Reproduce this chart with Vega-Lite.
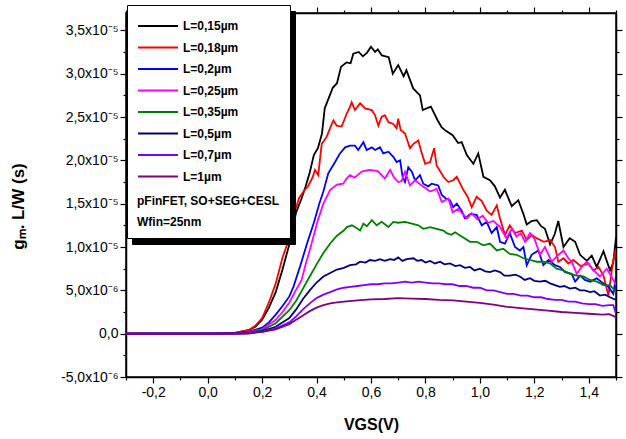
{
 "$schema": "https://vega.github.io/schema/vega-lite/v6.json",
 "width": 490, "height": 364,
 "autosize": {"type": "none"},
 "padding": {"left": 126, "top": 13, "right": 10, "bottom": 62},
 "background": "white",
 "config": {"view": {"stroke": "black", "strokeWidth": 1.5}, "font": "Liberation Sans"},
 "datasets": {
  "shadow": [{"s":"a"},{"s":"b"},{"s":"c"},{"s":"d"},{"s":"e"},{"s":"f"},{"s":"g"},{"s":"h"}],
  "curves": [
{"L":"L=0,15µm","V":-0.3,"g":0},{"L":"L=0,15µm","V":0,"g":0},{"L":"L=0,15µm","V":0.05,"g":0.002e-5},{"L":"L=0,15µm","V":0.1,"g":0.01e-5},{"L":"L=0,15µm","V":0.15,"g":0.04e-5},{"L":"L=0,15µm","V":0.175,"g":0.08e-5},{"L":"L=0,15µm","V":0.2,"g":0.16e-5},{"L":"L=0,15µm","V":0.225,"g":0.30e-5},{"L":"L=0,15µm","V":0.25,"g":0.48e-5},{"L":"L=0,15µm","V":0.275,"g":0.74e-5},{"L":"L=0,15µm","V":0.3,"g":1.03e-5},{"L":"L=0,15µm","V":0.325,"g":1.40e-5},{"L":"L=0,15µm","V":0.345,"g":1.56e-5},{"L":"L=0,15µm","V":0.36,"g":1.70e-5},{"L":"L=0,15µm","V":0.375,"g":1.86e-5},{"L":"L=0,15µm","V":0.39,"g":2.06e-5},{"L":"L=0,15µm","V":0.405,"g":2.14e-5},{"L":"L=0,15µm","V":0.42,"g":2.31e-5},{"L":"L=0,15µm","V":0.43,"g":2.60e-5},{"L":"L=0,15µm","V":0.445,"g":2.72e-5},{"L":"L=0,15µm","V":0.46,"g":2.84e-5},{"L":"L=0,15µm","V":0.475,"g":2.89e-5},{"L":"L=0,15µm","V":0.49,"g":3.08e-5},{"L":"L=0,15µm","V":0.51,"g":3.13e-5},{"L":"L=0,15µm","V":0.525,"g":3.12e-5},{"L":"L=0,15µm","V":0.535,"g":3.23e-5},{"L":"L=0,15µm","V":0.555,"g":3.25e-5},{"L":"L=0,15µm","V":0.57,"g":3.20e-5},{"L":"L=0,15µm","V":0.585,"g":3.24e-5},{"L":"L=0,15µm","V":0.6,"g":3.31e-5},{"L":"L=0,15µm","V":0.615,"g":3.25e-5},{"L":"L=0,15µm","V":0.625,"g":3.28e-5},{"L":"L=0,15µm","V":0.64,"g":3.21e-5},{"L":"L=0,15µm","V":0.665,"g":3.19e-5},{"L":"L=0,15µm","V":0.68,"g":3.00e-5},{"L":"L=0,15µm","V":0.7,"g":3.10e-5},{"L":"L=0,15µm","V":0.72,"g":2.97e-5},{"L":"L=0,15µm","V":0.73,"g":3.04e-5},{"L":"L=0,15µm","V":0.755,"g":2.83e-5},{"L":"L=0,15µm","V":0.78,"g":2.75e-5},{"L":"L=0,15µm","V":0.79,"g":2.58e-5},{"L":"L=0,15µm","V":0.82,"g":2.62e-5},{"L":"L=0,15µm","V":0.845,"g":2.46e-5},{"L":"L=0,15µm","V":0.86,"g":2.38e-5},{"L":"L=0,15µm","V":0.875,"g":2.34e-5},{"L":"L=0,15µm","V":0.9,"g":2.29e-5},{"L":"L=0,15µm","V":0.92,"g":2.20e-5},{"L":"L=0,15µm","V":0.933,"g":2.21e-5},{"L":"L=0,15µm","V":0.952,"g":2.06e-5},{"L":"L=0,15µm","V":0.976,"g":1.96e-5},{"L":"L=0,15µm","V":0.994,"g":2.08e-5},{"L":"L=0,15µm","V":1.013,"g":1.81e-5},{"L":"L=0,15µm","V":1.037,"g":1.77e-5},{"L":"L=0,15µm","V":1.055,"g":1.70e-5},{"L":"L=0,15µm","V":1.074,"g":1.57e-5},{"L":"L=0,15µm","V":1.092,"g":1.66e-5},{"L":"L=0,15µm","V":1.117,"g":1.47e-5},{"L":"L=0,15µm","V":1.141,"g":1.54e-5},{"L":"L=0,15µm","V":1.16,"g":1.38e-5},{"L":"L=0,15µm","V":1.172,"g":1.26e-5},{"L":"L=0,15µm","V":1.19,"g":1.30e-5},{"L":"L=0,15µm","V":1.209,"g":1.31e-5},{"L":"L=0,15µm","V":1.225,"g":1.24e-5},{"L":"L=0,15µm","V":1.239,"g":1.21e-5},{"L":"L=0,15µm","V":1.258,"g":1.03e-5},{"L":"L=0,15µm","V":1.275,"g":1.15e-5},{"L":"L=0,15µm","V":1.288,"g":1.30e-5},{"L":"L=0,15µm","V":1.307,"g":1.00e-5},{"L":"L=0,15µm","V":1.33,"g":1.10e-5},{"L":"L=0,15µm","V":1.35,"g":1.06e-5},{"L":"L=0,15µm","V":1.368,"g":0.91e-5},{"L":"L=0,15µm","V":1.393,"g":0.84e-5},{"L":"L=0,15µm","V":1.411,"g":0.90e-5},{"L":"L=0,15µm","V":1.429,"g":0.77e-5},{"L":"L=0,15µm","V":1.454,"g":0.95e-5},{"L":"L=0,15µm","V":1.478,"g":0.73e-5},{"L":"L=0,15µm","V":1.49,"g":0.82e-5},{"L":"L=0,15µm","V":1.5,"g":1.11e-5},
{"L":"L=0,18µm","V":-0.3,"g":0},{"L":"L=0,18µm","V":0,"g":0},{"L":"L=0,18µm","V":0.05,"g":0.002e-5},{"L":"L=0,18µm","V":0.1,"g":0.01e-5},{"L":"L=0,18µm","V":0.15,"g":0.04e-5},{"L":"L=0,18µm","V":0.175,"g":0.09e-5},{"L":"L=0,18µm","V":0.2,"g":0.18e-5},{"L":"L=0,18µm","V":0.225,"g":0.36e-5},{"L":"L=0,18µm","V":0.25,"g":0.58e-5},{"L":"L=0,18µm","V":0.275,"g":0.88e-5},{"L":"L=0,18µm","V":0.3,"g":1.10e-5},{"L":"L=0,18µm","V":0.32,"g":1.40e-5},{"L":"L=0,18µm","V":0.335,"g":1.56e-5},{"L":"L=0,18µm","V":0.35,"g":1.63e-5},{"L":"L=0,18µm","V":0.37,"g":1.71e-5},{"L":"L=0,18µm","V":0.385,"g":1.80e-5},{"L":"L=0,18µm","V":0.394,"g":1.89e-5},{"L":"L=0,18µm","V":0.406,"g":1.83e-5},{"L":"L=0,18µm","V":0.419,"g":2.19e-5},{"L":"L=0,18µm","V":0.437,"g":2.27e-5},{"L":"L=0,18µm","V":0.456,"g":2.42e-5},{"L":"L=0,18µm","V":0.462,"g":2.46e-5},{"L":"L=0,18µm","V":0.474,"g":2.40e-5},{"L":"L=0,18µm","V":0.492,"g":2.39e-5},{"L":"L=0,18µm","V":0.511,"g":2.54e-5},{"L":"L=0,18µm","V":0.523,"g":2.62e-5},{"L":"L=0,18µm","V":0.529,"g":2.67e-5},{"L":"L=0,18µm","V":0.541,"g":2.58e-5},{"L":"L=0,18µm","V":0.56,"g":2.66e-5},{"L":"L=0,18µm","V":0.578,"g":2.60e-5},{"L":"L=0,18µm","V":0.603,"g":2.58e-5},{"L":"L=0,18µm","V":0.615,"g":2.52e-5},{"L":"L=0,18µm","V":0.627,"g":2.40e-5},{"L":"L=0,18µm","V":0.639,"g":2.50e-5},{"L":"L=0,18µm","V":0.651,"g":2.52e-5},{"L":"L=0,18µm","V":0.664,"g":2.44e-5},{"L":"L=0,18µm","V":0.682,"g":2.42e-5},{"L":"L=0,18µm","V":0.694,"g":2.37e-5},{"L":"L=0,18µm","V":0.7,"g":2.48e-5},{"L":"L=0,18µm","V":0.709,"g":2.35e-5},{"L":"L=0,18µm","V":0.725,"g":2.31e-5},{"L":"L=0,18µm","V":0.743,"g":2.14e-5},{"L":"L=0,18µm","V":0.756,"g":2.19e-5},{"L":"L=0,18µm","V":0.774,"g":2.23e-5},{"L":"L=0,18µm","V":0.783,"g":2.12e-5},{"L":"L=0,18µm","V":0.799,"g":1.96e-5},{"L":"L=0,18µm","V":0.817,"g":1.98e-5},{"L":"L=0,18µm","V":0.832,"g":2.14e-5},{"L":"L=0,18µm","V":0.841,"g":1.94e-5},{"L":"L=0,18µm","V":0.866,"g":1.81e-5},{"L":"L=0,18µm","V":0.884,"g":1.75e-5},{"L":"L=0,18µm","V":0.902,"g":1.77e-5},{"L":"L=0,18µm","V":0.915,"g":1.81e-5},{"L":"L=0,18µm","V":0.939,"g":1.66e-5},{"L":"L=0,18µm","V":0.955,"g":1.58e-5},{"L":"L=0,18µm","V":0.97,"g":1.46e-5},{"L":"L=0,18µm","V":0.988,"g":1.58e-5},{"L":"L=0,18µm","V":1.007,"g":1.53e-5},{"L":"L=0,18µm","V":1.025,"g":1.42e-5},{"L":"L=0,18µm","V":1.043,"g":1.37e-5},{"L":"L=0,18µm","V":1.062,"g":1.48e-5},{"L":"L=0,18µm","V":1.074,"g":1.33e-5},{"L":"L=0,18µm","V":1.092,"g":1.14e-5},{"L":"L=0,18µm","V":1.11,"g":1.25e-5},{"L":"L=0,18µm","V":1.129,"g":1.16e-5},{"L":"L=0,18µm","V":1.154,"g":1.19e-5},{"L":"L=0,18µm","V":1.172,"g":1.08e-5},{"L":"L=0,18µm","V":1.19,"g":1.14e-5},{"L":"L=0,18µm","V":1.209,"g":1.10e-5},{"L":"L=0,18µm","V":1.235,"g":1.06e-5},{"L":"L=0,18µm","V":1.258,"g":1.08e-5},{"L":"L=0,18µm","V":1.276,"g":1.00e-5},{"L":"L=0,18µm","V":1.288,"g":0.83e-5},{"L":"L=0,18µm","V":1.307,"g":0.87e-5},{"L":"L=0,18µm","V":1.325,"g":0.81e-5},{"L":"L=0,18µm","V":1.343,"g":0.85e-5},{"L":"L=0,18µm","V":1.37,"g":0.78e-5},{"L":"L=0,18µm","V":1.399,"g":0.81e-5},{"L":"L=0,18µm","V":1.417,"g":0.73e-5},{"L":"L=0,18µm","V":1.436,"g":0.77e-5},{"L":"L=0,18µm","V":1.454,"g":0.67e-5},{"L":"L=0,18µm","V":1.472,"g":0.44e-5},{"L":"L=0,18µm","V":1.49,"g":0.85e-5},{"L":"L=0,18µm","V":1.5,"g":0.98e-5},
{"L":"L=0,2µm","V":-0.3,"g":0},{"L":"L=0,2µm","V":0,"g":0},{"L":"L=0,2µm","V":0.1,"g":0.005e-5},{"L":"L=0,2µm","V":0.15,"g":0.02e-5},{"L":"L=0,2µm","V":0.2,"g":0.07e-5},{"L":"L=0,2µm","V":0.225,"g":0.13e-5},{"L":"L=0,2µm","V":0.25,"g":0.22e-5},{"L":"L=0,2µm","V":0.275,"g":0.32e-5},{"L":"L=0,2µm","V":0.3,"g":0.43e-5},{"L":"L=0,2µm","V":0.315,"g":0.54e-5},{"L":"L=0,2µm","V":0.34,"g":0.78e-5},{"L":"L=0,2µm","V":0.365,"g":1.04e-5},{"L":"L=0,2µm","V":0.39,"g":1.28e-5},{"L":"L=0,2µm","V":0.41,"g":1.50e-5},{"L":"L=0,2µm","V":0.425,"g":1.64e-5},{"L":"L=0,2µm","V":0.443,"g":1.85e-5},{"L":"L=0,2µm","V":0.468,"g":1.98e-5},{"L":"L=0,2µm","V":0.486,"g":2.08e-5},{"L":"L=0,2µm","V":0.505,"g":2.15e-5},{"L":"L=0,2µm","V":0.523,"g":2.17e-5},{"L":"L=0,2µm","V":0.541,"g":2.17e-5},{"L":"L=0,2µm","V":0.553,"g":2.12e-5},{"L":"L=0,2µm","V":0.572,"g":2.21e-5},{"L":"L=0,2µm","V":0.584,"g":2.12e-5},{"L":"L=0,2µm","V":0.603,"g":2.15e-5},{"L":"L=0,2µm","V":0.615,"g":2.12e-5},{"L":"L=0,2µm","V":0.633,"g":2.15e-5},{"L":"L=0,2µm","V":0.645,"g":2.08e-5},{"L":"L=0,2µm","V":0.664,"g":2.10e-5},{"L":"L=0,2µm","V":0.682,"g":2.04e-5},{"L":"L=0,2µm","V":0.694,"g":1.98e-5},{"L":"L=0,2µm","V":0.707,"g":2.00e-5},{"L":"L=0,2µm","V":0.716,"g":1.81e-5},{"L":"L=0,2µm","V":0.725,"g":1.75e-5},{"L":"L=0,2µm","V":0.737,"g":1.92e-5},{"L":"L=0,2µm","V":0.75,"g":1.87e-5},{"L":"L=0,2µm","V":0.762,"g":1.77e-5},{"L":"L=0,2µm","V":0.78,"g":1.83e-5},{"L":"L=0,2µm","V":0.792,"g":1.73e-5},{"L":"L=0,2µm","V":0.81,"g":1.70e-5},{"L":"L=0,2µm","V":0.823,"g":1.73e-5},{"L":"L=0,2µm","V":0.847,"g":1.71e-5},{"L":"L=0,2µm","V":0.86,"g":1.60e-5},{"L":"L=0,2µm","V":0.875,"g":1.56e-5},{"L":"L=0,2µm","V":0.89,"g":1.54e-5},{"L":"L=0,2µm","V":0.902,"g":1.46e-5},{"L":"L=0,2µm","V":0.915,"g":1.50e-5},{"L":"L=0,2µm","V":0.933,"g":1.42e-5},{"L":"L=0,2µm","V":0.945,"g":1.33e-5},{"L":"L=0,2µm","V":0.965,"g":1.38e-5},{"L":"L=0,2µm","V":0.988,"g":1.37e-5},{"L":"L=0,2µm","V":1.007,"g":1.25e-5},{"L":"L=0,2µm","V":1.025,"g":1.29e-5},{"L":"L=0,2µm","V":1.043,"g":1.16e-5},{"L":"L=0,2µm","V":1.062,"g":1.23e-5},{"L":"L=0,2µm","V":1.074,"g":1.06e-5},{"L":"L=0,2µm","V":1.092,"g":1.04e-5},{"L":"L=0,2µm","V":1.11,"g":1.16e-5},{"L":"L=0,2µm","V":1.129,"g":1.00e-5},{"L":"L=0,2µm","V":1.147,"g":0.96e-5},{"L":"L=0,2µm","V":1.16,"g":1.00e-5},{"L":"L=0,2µm","V":1.172,"g":0.79e-5},{"L":"L=0,2µm","V":1.19,"g":0.91e-5},{"L":"L=0,2µm","V":1.215,"g":0.96e-5},{"L":"L=0,2µm","V":1.233,"g":0.79e-5},{"L":"L=0,2µm","V":1.252,"g":0.85e-5},{"L":"L=0,2µm","V":1.276,"g":0.79e-5},{"L":"L=0,2µm","V":1.294,"g":0.77e-5},{"L":"L=0,2µm","V":1.313,"g":0.71e-5},{"L":"L=0,2µm","V":1.337,"g":0.69e-5},{"L":"L=0,2µm","V":1.35,"g":0.60e-5},{"L":"L=0,2µm","V":1.368,"g":0.67e-5},{"L":"L=0,2µm","V":1.386,"g":0.62e-5},{"L":"L=0,2µm","V":1.405,"g":0.60e-5},{"L":"L=0,2µm","V":1.429,"g":0.64e-5},{"L":"L=0,2µm","V":1.454,"g":0.58e-5},{"L":"L=0,2µm","V":1.472,"g":0.54e-5},{"L":"L=0,2µm","V":1.49,"g":0.46e-5},{"L":"L=0,2µm","V":1.5,"g":0.66e-5},
{"L":"L=0,25µm","V":-0.3,"g":0},{"L":"L=0,25µm","V":0,"g":0},{"L":"L=0,25µm","V":0.1,"g":0.004e-5},{"L":"L=0,25µm","V":0.15,"g":0.015e-5},{"L":"L=0,25µm","V":0.2,"g":0.05e-5},{"L":"L=0,25µm","V":0.25,"g":0.16e-5},{"L":"L=0,25µm","V":0.275,"g":0.25e-5},{"L":"L=0,25µm","V":0.3,"g":0.36e-5},{"L":"L=0,25µm","V":0.32,"g":0.48e-5},{"L":"L=0,25µm","V":0.345,"g":0.62e-5},{"L":"L=0,25µm","V":0.36,"g":0.80e-5},{"L":"L=0,25µm","V":0.38,"g":1.02e-5},{"L":"L=0,25µm","V":0.405,"g":1.31e-5},{"L":"L=0,25µm","V":0.425,"g":1.50e-5},{"L":"L=0,25µm","V":0.45,"g":1.66e-5},{"L":"L=0,25µm","V":0.475,"g":1.72e-5},{"L":"L=0,25µm","V":0.498,"g":1.73e-5},{"L":"L=0,25µm","V":0.51,"g":1.79e-5},{"L":"L=0,25µm","V":0.523,"g":1.83e-5},{"L":"L=0,25µm","V":0.54,"g":1.80e-5},{"L":"L=0,25µm","V":0.566,"g":1.87e-5},{"L":"L=0,25µm","V":0.58,"g":1.88e-5},{"L":"L=0,25µm","V":0.596,"g":1.89e-5},{"L":"L=0,25µm","V":0.615,"g":1.88e-5},{"L":"L=0,25µm","V":0.627,"g":1.87e-5},{"L":"L=0,25µm","V":0.651,"g":1.79e-5},{"L":"L=0,25µm","V":0.67,"g":1.89e-5},{"L":"L=0,25µm","V":0.685,"g":1.80e-5},{"L":"L=0,25µm","V":0.7,"g":1.75e-5},{"L":"L=0,25µm","V":0.712,"g":1.76e-5},{"L":"L=0,25µm","V":0.725,"g":1.87e-5},{"L":"L=0,25µm","V":0.743,"g":1.71e-5},{"L":"L=0,25µm","V":0.762,"g":1.77e-5},{"L":"L=0,25µm","V":0.786,"g":1.71e-5},{"L":"L=0,25µm","V":0.8,"g":1.68e-5},{"L":"L=0,25µm","V":0.817,"g":1.64e-5},{"L":"L=0,25µm","V":0.841,"g":1.67e-5},{"L":"L=0,25µm","V":0.86,"g":1.52e-5},{"L":"L=0,25µm","V":0.884,"g":1.56e-5},{"L":"L=0,25µm","V":0.9,"g":1.40e-5},{"L":"L=0,25µm","V":0.92,"g":1.44e-5},{"L":"L=0,25µm","V":0.952,"g":1.33e-5},{"L":"L=0,25µm","V":0.97,"g":1.39e-5},{"L":"L=0,25µm","V":0.99,"g":1.32e-5},{"L":"L=0,25µm","V":1.01,"g":1.36e-5},{"L":"L=0,25µm","V":1.03,"g":1.28e-5},{"L":"L=0,25µm","V":1.05,"g":1.30e-5},{"L":"L=0,25µm","V":1.074,"g":1.23e-5},{"L":"L=0,25µm","V":1.098,"g":1.10e-5},{"L":"L=0,25µm","V":1.117,"g":1.21e-5},{"L":"L=0,25µm","V":1.135,"g":1.12e-5},{"L":"L=0,25µm","V":1.15,"g":1.16e-5},{"L":"L=0,25µm","V":1.166,"g":1.06e-5},{"L":"L=0,25µm","V":1.184,"g":1.16e-5},{"L":"L=0,25µm","V":1.2,"g":1.10e-5},{"L":"L=0,25µm","V":1.221,"g":0.91e-5},{"L":"L=0,25µm","V":1.239,"g":1.00e-5},{"L":"L=0,25µm","V":1.264,"g":0.83e-5},{"L":"L=0,25µm","V":1.285,"g":0.90e-5},{"L":"L=0,25µm","V":1.307,"g":0.96e-5},{"L":"L=0,25µm","V":1.325,"g":0.87e-5},{"L":"L=0,25µm","V":1.337,"g":0.83e-5},{"L":"L=0,25µm","V":1.356,"g":0.69e-5},{"L":"L=0,25µm","V":1.374,"g":0.77e-5},{"L":"L=0,25µm","V":1.393,"g":0.83e-5},{"L":"L=0,25µm","V":1.415,"g":0.74e-5},{"L":"L=0,25µm","V":1.441,"g":0.66e-5},{"L":"L=0,25µm","V":1.466,"g":0.75e-5},{"L":"L=0,25µm","V":1.485,"g":0.65e-5},{"L":"L=0,25µm","V":1.5,"g":0.56e-5},
{"L":"L=0,35µm","V":-0.3,"g":0},{"L":"L=0,35µm","V":0,"g":0},{"L":"L=0,35µm","V":0.1,"g":0.003e-5},{"L":"L=0,35µm","V":0.15,"g":0.01e-5},{"L":"L=0,35µm","V":0.2,"g":0.04e-5},{"L":"L=0,35µm","V":0.25,"g":0.12e-5},{"L":"L=0,35µm","V":0.3,"g":0.27e-5},{"L":"L=0,35µm","V":0.325,"g":0.38e-5},{"L":"L=0,35µm","V":0.35,"g":0.52e-5},{"L":"L=0,35µm","V":0.375,"g":0.66e-5},{"L":"L=0,35µm","V":0.4,"g":0.80e-5},{"L":"L=0,35µm","V":0.425,"g":0.93e-5},{"L":"L=0,35µm","V":0.45,"g":1.04e-5},{"L":"L=0,35µm","V":0.475,"g":1.13e-5},{"L":"L=0,35µm","V":0.5,"g":1.19e-5},{"L":"L=0,35µm","V":0.511,"g":1.23e-5},{"L":"L=0,35µm","V":0.53,"g":1.25e-5},{"L":"L=0,35µm","V":0.541,"g":1.23e-5},{"L":"L=0,35µm","V":0.56,"g":1.19e-5},{"L":"L=0,35µm","V":0.572,"g":1.27e-5},{"L":"L=0,35µm","V":0.585,"g":1.24e-5},{"L":"L=0,35µm","V":0.603,"g":1.31e-5},{"L":"L=0,35µm","V":0.621,"g":1.25e-5},{"L":"L=0,35µm","V":0.639,"g":1.29e-5},{"L":"L=0,35µm","V":0.664,"g":1.23e-5},{"L":"L=0,35µm","V":0.682,"g":1.29e-5},{"L":"L=0,35µm","V":0.7,"g":1.28e-5},{"L":"L=0,35µm","V":0.725,"g":1.29e-5},{"L":"L=0,35µm","V":0.75,"g":1.27e-5},{"L":"L=0,35µm","V":0.774,"g":1.25e-5},{"L":"L=0,35µm","V":0.792,"g":1.21e-5},{"L":"L=0,35µm","V":0.817,"g":1.23e-5},{"L":"L=0,35µm","V":0.841,"g":1.21e-5},{"L":"L=0,35µm","V":0.866,"g":1.19e-5},{"L":"L=0,35µm","V":0.878,"g":1.16e-5},{"L":"L=0,35µm","V":0.895,"g":1.14e-5},{"L":"L=0,35µm","V":0.909,"g":1.17e-5},{"L":"L=0,35µm","V":0.933,"g":1.12e-5},{"L":"L=0,35µm","V":0.964,"g":1.06e-5},{"L":"L=0,35µm","V":0.988,"g":1.06e-5},{"L":"L=0,35µm","V":1.013,"g":1.02e-5},{"L":"L=0,35µm","V":1.037,"g":1.04e-5},{"L":"L=0,35µm","V":1.062,"g":0.96e-5},{"L":"L=0,35µm","V":1.086,"g":0.98e-5},{"L":"L=0,35µm","V":1.11,"g":0.92e-5},{"L":"L=0,35µm","V":1.135,"g":0.91e-5},{"L":"L=0,35µm","V":1.16,"g":0.87e-5},{"L":"L=0,35µm","V":1.184,"g":0.85e-5},{"L":"L=0,35µm","V":1.209,"g":0.83e-5},{"L":"L=0,35µm","V":1.233,"g":0.83e-5},{"L":"L=0,35µm","V":1.258,"g":0.81e-5},{"L":"L=0,35µm","V":1.282,"g":0.75e-5},{"L":"L=0,35µm","V":1.307,"g":0.73e-5},{"L":"L=0,35µm","V":1.331,"g":0.69e-5},{"L":"L=0,35µm","V":1.356,"g":0.67e-5},{"L":"L=0,35µm","V":1.38,"g":0.66e-5},{"L":"L=0,35µm","V":1.405,"g":0.62e-5},{"L":"L=0,35µm","V":1.43,"g":0.60e-5},{"L":"L=0,35µm","V":1.454,"g":0.56e-5},{"L":"L=0,35µm","V":1.478,"g":0.56e-5},{"L":"L=0,35µm","V":1.5,"g":0.48e-5},
{"L":"L=0,5µm","V":-0.3,"g":0},{"L":"L=0,5µm","V":0,"g":0},{"L":"L=0,5µm","V":0.1,"g":0.002e-5},{"L":"L=0,5µm","V":0.15,"g":0.005e-5},{"L":"L=0,5µm","V":0.2,"g":0.03e-5},{"L":"L=0,5µm","V":0.25,"g":0.08e-5},{"L":"L=0,5µm","V":0.3,"g":0.18e-5},{"L":"L=0,5µm","V":0.325,"g":0.28e-5},{"L":"L=0,5µm","V":0.35,"g":0.40e-5},{"L":"L=0,5µm","V":0.375,"g":0.50e-5},{"L":"L=0,5µm","V":0.4,"g":0.59e-5},{"L":"L=0,5µm","V":0.425,"g":0.66e-5},{"L":"L=0,5µm","V":0.45,"g":0.70e-5},{"L":"L=0,5µm","V":0.475,"g":0.74e-5},{"L":"L=0,5µm","V":0.5,"g":0.76e-5},{"L":"L=0,5µm","V":0.523,"g":0.79e-5},{"L":"L=0,5µm","V":0.545,"g":0.80e-5},{"L":"L=0,5µm","V":0.56,"g":0.83e-5},{"L":"L=0,5µm","V":0.58,"g":0.82e-5},{"L":"L=0,5µm","V":0.596,"g":0.85e-5},{"L":"L=0,5µm","V":0.615,"g":0.84e-5},{"L":"L=0,5µm","V":0.633,"g":0.86e-5},{"L":"L=0,5µm","V":0.65,"g":0.84e-5},{"L":"L=0,5µm","V":0.67,"g":0.86e-5},{"L":"L=0,5µm","V":0.685,"g":0.85e-5},{"L":"L=0,5µm","V":0.7,"g":0.88e-5},{"L":"L=0,5µm","V":0.715,"g":0.84e-5},{"L":"L=0,5µm","V":0.731,"g":0.86e-5},{"L":"L=0,5µm","V":0.756,"g":0.87e-5},{"L":"L=0,5µm","V":0.77,"g":0.84e-5},{"L":"L=0,5µm","V":0.786,"g":0.85e-5},{"L":"L=0,5µm","V":0.8,"g":0.82e-5},{"L":"L=0,5µm","V":0.817,"g":0.84e-5},{"L":"L=0,5µm","V":0.835,"g":0.81e-5},{"L":"L=0,5µm","V":0.854,"g":0.83e-5},{"L":"L=0,5µm","V":0.87,"g":0.80e-5},{"L":"L=0,5µm","V":0.89,"g":0.81e-5},{"L":"L=0,5µm","V":0.91,"g":0.78e-5},{"L":"L=0,5µm","V":0.927,"g":0.79e-5},{"L":"L=0,5µm","V":0.945,"g":0.76e-5},{"L":"L=0,5µm","V":0.964,"g":0.77e-5},{"L":"L=0,5µm","V":0.98,"g":0.73e-5},{"L":"L=0,5µm","V":1.0,"g":0.75e-5},{"L":"L=0,5µm","V":1.02,"g":0.72e-5},{"L":"L=0,5µm","V":1.037,"g":0.71e-5},{"L":"L=0,5µm","V":1.055,"g":0.73e-5},{"L":"L=0,5µm","V":1.074,"g":0.71e-5},{"L":"L=0,5µm","V":1.09,"g":0.67e-5},{"L":"L=0,5µm","V":1.11,"g":0.67e-5},{"L":"L=0,5µm","V":1.13,"g":0.68e-5},{"L":"L=0,5µm","V":1.147,"g":0.66e-5},{"L":"L=0,5µm","V":1.165,"g":0.62e-5},{"L":"L=0,5µm","V":1.184,"g":0.64e-5},{"L":"L=0,5µm","V":1.2,"g":0.61e-5},{"L":"L=0,5µm","V":1.221,"g":0.60e-5},{"L":"L=0,5µm","V":1.24,"g":0.61e-5},{"L":"L=0,5µm","V":1.258,"g":0.58e-5},{"L":"L=0,5µm","V":1.276,"g":0.56e-5},{"L":"L=0,5µm","V":1.294,"g":0.54e-5},{"L":"L=0,5µm","V":1.31,"g":0.55e-5},{"L":"L=0,5µm","V":1.331,"g":0.52e-5},{"L":"L=0,5µm","V":1.35,"g":0.53e-5},{"L":"L=0,5µm","V":1.368,"g":0.50e-5},{"L":"L=0,5µm","V":1.385,"g":0.50e-5},{"L":"L=0,5µm","V":1.405,"g":0.48e-5},{"L":"L=0,5µm","V":1.42,"g":0.49e-5},{"L":"L=0,5µm","V":1.441,"g":0.44e-5},{"L":"L=0,5µm","V":1.46,"g":0.45e-5},{"L":"L=0,5µm","V":1.478,"g":0.42e-5},{"L":"L=0,5µm","V":1.5,"g":0.39e-5},
{"L":"L=0,7µm","V":-0.3,"g":0},{"L":"L=0,7µm","V":0,"g":0},{"L":"L=0,7µm","V":0.1,"g":0.002e-5},{"L":"L=0,7µm","V":0.15,"g":0.005e-5},{"L":"L=0,7µm","V":0.2,"g":0.02e-5},{"L":"L=0,7µm","V":0.25,"g":0.06e-5},{"L":"L=0,7µm","V":0.3,"g":0.13e-5},{"L":"L=0,7µm","V":0.325,"g":0.20e-5},{"L":"L=0,7µm","V":0.35,"g":0.28e-5},{"L":"L=0,7µm","V":0.375,"g":0.35e-5},{"L":"L=0,7µm","V":0.4,"g":0.41e-5},{"L":"L=0,7µm","V":0.425,"g":0.45e-5},{"L":"L=0,7µm","V":0.45,"g":0.48e-5},{"L":"L=0,7µm","V":0.475,"g":0.51e-5},{"L":"L=0,7µm","V":0.5,"g":0.53e-5},{"L":"L=0,7µm","V":0.525,"g":0.54e-5},{"L":"L=0,7µm","V":0.55,"g":0.55e-5},{"L":"L=0,7µm","V":0.575,"g":0.56e-5},{"L":"L=0,7µm","V":0.6,"g":0.57e-5},{"L":"L=0,7µm","V":0.625,"g":0.57e-5},{"L":"L=0,7µm","V":0.65,"g":0.58e-5},{"L":"L=0,7µm","V":0.675,"g":0.58e-5},{"L":"L=0,7µm","V":0.7,"g":0.59e-5},{"L":"L=0,7µm","V":0.725,"g":0.60e-5},{"L":"L=0,7µm","V":0.75,"g":0.59e-5},{"L":"L=0,7µm","V":0.775,"g":0.60e-5},{"L":"L=0,7µm","V":0.8,"g":0.59e-5},{"L":"L=0,7µm","V":0.825,"g":0.58e-5},{"L":"L=0,7µm","V":0.85,"g":0.58e-5},{"L":"L=0,7µm","V":0.875,"g":0.57e-5},{"L":"L=0,7µm","V":0.9,"g":0.57e-5},{"L":"L=0,7µm","V":0.925,"g":0.55e-5},{"L":"L=0,7µm","V":0.95,"g":0.55e-5},{"L":"L=0,7µm","V":0.975,"g":0.53e-5},{"L":"L=0,7µm","V":1.0,"g":0.53e-5},{"L":"L=0,7µm","V":1.025,"g":0.50e-5},{"L":"L=0,7µm","V":1.05,"g":0.50e-5},{"L":"L=0,7µm","V":1.075,"g":0.48e-5},{"L":"L=0,7µm","V":1.1,"g":0.46e-5},{"L":"L=0,7µm","V":1.125,"g":0.46e-5},{"L":"L=0,7µm","V":1.15,"g":0.44e-5},{"L":"L=0,7µm","V":1.175,"g":0.44e-5},{"L":"L=0,7µm","V":1.2,"g":0.42e-5},{"L":"L=0,7µm","V":1.225,"g":0.42e-5},{"L":"L=0,7µm","V":1.25,"g":0.40e-5},{"L":"L=0,7µm","V":1.275,"g":0.39e-5},{"L":"L=0,7µm","V":1.3,"g":0.39e-5},{"L":"L=0,7µm","V":1.325,"g":0.37e-5},{"L":"L=0,7µm","V":1.35,"g":0.37e-5},{"L":"L=0,7µm","V":1.375,"g":0.35e-5},{"L":"L=0,7µm","V":1.4,"g":0.34e-5},{"L":"L=0,7µm","V":1.425,"g":0.34e-5},{"L":"L=0,7µm","V":1.45,"g":0.32e-5},{"L":"L=0,7µm","V":1.475,"g":0.33e-5},{"L":"L=0,7µm","V":1.49,"g":0.33e-5},{"L":"L=0,7µm","V":1.5,"g":0.23e-5},
{"L":"L=1µm","V":-0.3,"g":0},{"L":"L=1µm","V":0,"g":0},{"L":"L=1µm","V":0.1,"g":0.002e-5},{"L":"L=1µm","V":0.15,"g":0.005e-5},{"L":"L=1µm","V":0.2,"g":0.02e-5},{"L":"L=1µm","V":0.25,"g":0.05e-5},{"L":"L=1µm","V":0.3,"g":0.11e-5},{"L":"L=1µm","V":0.325,"g":0.16e-5},{"L":"L=1µm","V":0.35,"g":0.21e-5},{"L":"L=1µm","V":0.375,"g":0.26e-5},{"L":"L=1µm","V":0.4,"g":0.30e-5},{"L":"L=1µm","V":0.425,"g":0.33e-5},{"L":"L=1µm","V":0.45,"g":0.35e-5},{"L":"L=1µm","V":0.475,"g":0.36e-5},{"L":"L=1µm","V":0.5,"g":0.37e-5},{"L":"L=1µm","V":0.55,"g":0.385e-5},{"L":"L=1µm","V":0.6,"g":0.395e-5},{"L":"L=1µm","V":0.65,"g":0.40e-5},{"L":"L=1µm","V":0.7,"g":0.41e-5},{"L":"L=1µm","V":0.75,"g":0.405e-5},{"L":"L=1µm","V":0.8,"g":0.40e-5},{"L":"L=1µm","V":0.85,"g":0.39e-5},{"L":"L=1µm","V":0.9,"g":0.385e-5},{"L":"L=1µm","V":0.95,"g":0.37e-5},{"L":"L=1µm","V":1.0,"g":0.355e-5},{"L":"L=1µm","V":1.05,"g":0.335e-5},{"L":"L=1µm","V":1.1,"g":0.31e-5},{"L":"L=1µm","V":1.15,"g":0.295e-5},{"L":"L=1µm","V":1.2,"g":0.28e-5},{"L":"L=1µm","V":1.25,"g":0.265e-5},{"L":"L=1µm","V":1.3,"g":0.25e-5},{"L":"L=1µm","V":1.35,"g":0.24e-5},{"L":"L=1µm","V":1.4,"g":0.23e-5},{"L":"L=1µm","V":1.45,"g":0.22e-5},{"L":"L=1µm","V":1.475,"g":0.225e-5},{"L":"L=1µm","V":1.5,"g":0.19e-5}
  ]
 },
 "layer": [
  {
   "data": {"name": "shadow"},
   "mark": {"type": "line", "strokeWidth": 1.8, "opacity": 0},
   "encoding": {
    "stroke": {"field": "s", "type": "nominal",
     "scale": {"range": ["black"]},
     "legend": {"orient": "none", "legendX": 6, "legendY": -2,
      "title": ["pFinFET, SO+SEG+CESL", "Wfin=25nm"], "titleOrient": "bottom", "titleAnchor": "start",
      "titleFontSize": 12, "titleFontWeight": "bold", "titleColor": "black", "titleLineHeight": 21, "titlePadding": 13,
      "symbolType": "M-1,0H3", "symbolSize": 400, "symbolStrokeWidth": 2,
      "labelExpr": "'\u00a0'",
      "labelFontSize": 12, "labelFontWeight": "bold", "labelColor": "black", "labelOffset": 24, "rowPadding": 4.5,
      "padding": 10, "strokeColor": "black", "fillColor": "black", "cornerRadius": 0}}
   }
  },
  {
   "data": {"name": "curves"},
   "mark": {"type": "line", "strokeWidth": 1.8, "clip": true},
   "encoding": {
    "x": {"field": "V", "type": "quantitative",
     "scale": {"domain": [-0.3, 1.5], "nice": false, "zero": false},
     "axis": {"orient": "bottom", "grid": false,
      "values": [-0.3,-0.2,-0.1,0,0.1,0.2,0.3,0.4,0.5,0.6,0.7,0.8,0.9,1.0,1.1,1.2,1.3,1.4,1.5],
      "labelExpr": "abs(round(datum.value*10))%2==0 ? replace(replace(format(datum.value,'.1f'),'.',','),'−','-') : ''",
      "tickSize": {"condition": {"test": "abs(round(datum.value*10))%2==0", "value": 6}, "value": 3},
      "tickColor": "black", "tickWidth": 1.2, "domainColor": "black", "domainWidth": 1.5,
      "labelFontSize": 14, "labelColor": "black", "labelPadding": 2, "labelFlush": false,
      "title": "VGS(V)", "titleFontSize": 16, "titleFontWeight": "bold", "titleColor": "black", "titlePadding": 17}},
    "y": {"field": "g", "type": "quantitative",
     "scale": {"domain": [-5e-6, 3.7e-5], "nice": false, "zero": false},
     "axis": {"orient": "left", "grid": false,
      "values": [-5e-6,-2.5e-6,0,2.5e-6,5e-6,7.5e-6,1e-5,1.25e-5,1.5e-5,1.75e-5,2e-5,2.25e-5,2.5e-5,2.75e-5,3e-5,3.25e-5,3.5e-5],
      "labelExpr": "abs(round(datum.value/2.5e-6))%2!=0 ? '' : (datum.value==0 ? '0,0' : (abs(datum.value)<9e-6 ? replace(replace(format(datum.value*1e6,'.1f'),'.',','),'−','-')+'x10⁻⁶' : replace(replace(format(datum.value*1e5,'.1f'),'.',','),'−','-')+'x10⁻⁵'))",
      "tickSize": {"condition": {"test": "abs(round(datum.value/2.5e-6))%2==0", "value": 6}, "value": 3},
      "tickColor": "black", "tickWidth": 1.2, "domainColor": "black", "domainWidth": 1.5,
      "labelFontSize": 14, "labelColor": "black", "labelPadding": 2, "labelFlush": false,
      "title": "gₘ. L/W (s)", "titleFontSize": 17, "titleFontWeight": "bold", "titleColor": "black", "titlePadding": 33, "titleY": 193}},
    "color": {"field": "L", "type": "nominal",
     "scale": {"domain": ["L=0,15µm","L=0,18µm","L=0,2µm","L=0,25µm","L=0,35µm","L=0,5µm","L=0,7µm","L=1µm"],
      "range": ["#000000","#ff0000","#0000ff","#ff00ff","#008000","#000080","#8000ff","#800080"]},
     "legend": {"orient": "none", "legendX": 1, "legendY": -8,
      "title": ["pFinFET, SO+SEG+CESL", "Wfin=25nm"], "titleOrient": "bottom", "titleAnchor": "start",
      "titleFontSize": 12, "titleFontWeight": "bold", "titleColor": "black", "titleLineHeight": 21, "titlePadding": 13,
      "symbolType": "M-1,0H3", "symbolSize": 400, "symbolStrokeWidth": 2,
      "labelFontSize": 12, "labelFontWeight": "bold", "labelColor": "black", "labelOffset": 24, "rowPadding": 4.5,
      "padding": 10, "strokeColor": "black", "fillColor": "white", "cornerRadius": 0}}
   }
  },
  {
   "data": {"name": "curves"},
   "mark": {"type": "point", "opacity": 0},
   "encoding": {
    "x": {"field": "V", "type": "quantitative",
     "scale": {"domain": [-0.3, 1.5], "nice": false, "zero": false},
     "axis": {"orient": "top", "grid": false, "labels": false, "title": null,
      "values": [-0.3,-0.2,-0.1,0,0.1,0.2,0.3,0.4,0.5,0.6,0.7,0.8,0.9,1.0,1.1,1.2,1.3,1.4,1.5],
      "tickSize": {"condition": {"test": "abs(round(datum.value*10))%2==0", "value": 6}, "value": 3},
      "tickColor": "black", "tickWidth": 1.2, "domainColor": "black", "domainWidth": 1.5}},
    "y": {"field": "g", "type": "quantitative",
     "scale": {"domain": [-5e-6, 3.7e-5], "nice": false, "zero": false},
     "axis": {"orient": "right", "grid": false, "labels": false, "title": null,
      "values": [-5e-6,-2.5e-6,0,2.5e-6,5e-6,7.5e-6,1e-5,1.25e-5,1.5e-5,1.75e-5,2e-5,2.25e-5,2.5e-5,2.75e-5,3e-5,3.25e-5,3.5e-5],
      "tickSize": {"condition": {"test": "abs(round(datum.value/2.5e-6))%2==0", "value": 6}, "value": 3},
      "tickColor": "black", "tickWidth": 1.2, "domainColor": "black", "domainWidth": 1.5}}
   }
  }
 ],
 "resolve": {"axis": {"x": "independent", "y": "independent"}}
}
